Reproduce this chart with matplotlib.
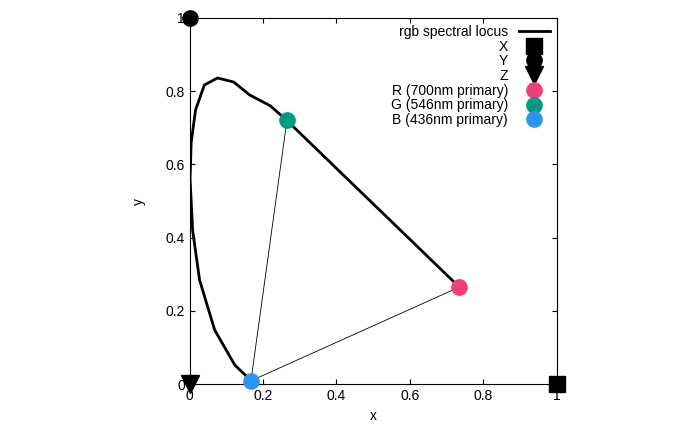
import matplotlib.pyplot as plt

plt.rcParams['font.family'] = ['Liberation Sans', 'DejaVu Sans']

# spectral locus
locus_x = [0.169, 0.123, 0.068, 0.027, 0.008, 0.001, 0.004, 0.016, 0.040, 0.076, 0.120, 0.163, 0.220, 0.265, 0.735]
locus_y = [0.008, 0.052, 0.148, 0.284, 0.420, 0.560, 0.660, 0.749, 0.817, 0.836, 0.825, 0.790, 0.760, 0.720, 0.265]

prim_x = [1.0, 0.0, 0.0]
prim_y = [0.0, 1.0, 0.0]
rgb_x = [0.735, 0.265, 0.167]
rgb_y = [0.265, 0.720, 0.009]
rgb_colors = ['#ee3f78', '#009a85', '#2e95ee']
rgb_labels = ['R (700nm primary)', 'G (546nm primary)', 'B (436nm primary)']

fig = plt.figure(figsize=(7, 4.38), dpi=100)
ax = fig.add_axes([0.271, 0.123, 0.524, 0.836])

ax.plot([rgb_x[2], rgb_x[1]], [rgb_y[2], rgb_y[1]], color='black', lw=0.6)
ax.plot([rgb_x[2], rgb_x[0]], [rgb_y[2], rgb_y[0]], color='black', lw=0.6)
ax.plot(locus_x, locus_y, color='black', lw=2, label='rgb spectral locus')
ax.plot(prim_x[0], prim_y[0], 's', color='black', ms=11, label='X', clip_on=False)
ax.plot(prim_x[1], prim_y[1], 'o', color='black', ms=11, label='Y', clip_on=False)
ax.plot(prim_x[2], prim_y[2], 'v', color='black', ms=13, label='Z', clip_on=False)
for x, y, c, l in zip(rgb_x, rgb_y, rgb_colors, rgb_labels):
    ax.plot(x, y, 'o', color=c, ms=11, label=l, clip_on=False, zorder=5)

ax.set_xlim(0, 1)
ax.set_ylim(0, 1)
ax.set_xticks([0, 0.2, 0.4, 0.6, 0.8, 1])
ax.set_yticks([0, 0.2, 0.4, 0.6, 0.8, 1])
ax.set_xticklabels(['0', '0.2', '0.4', '0.6', '0.8', '1'])
ax.set_yticklabels(['0', '0.2', '0.4', '0.6', '0.8', '1'])
ax.tick_params(direction='in', top=True, right=True, labelsize=10)
ax.set_xlabel('x', fontsize=10)
ax.set_ylabel('y', fontsize=10, labelpad=14)

leg = ax.legend(loc='upper right', frameon=False, markerfirst=False, fontsize=10,
                handlelength=2.2, labelspacing=0.05, borderaxespad=0.1, handletextpad=0.8)
for t in leg.get_texts():
    t.set_ha('right')
leg._legend_box.align = 'right'

fig.savefig('out.png', dpi=100)
